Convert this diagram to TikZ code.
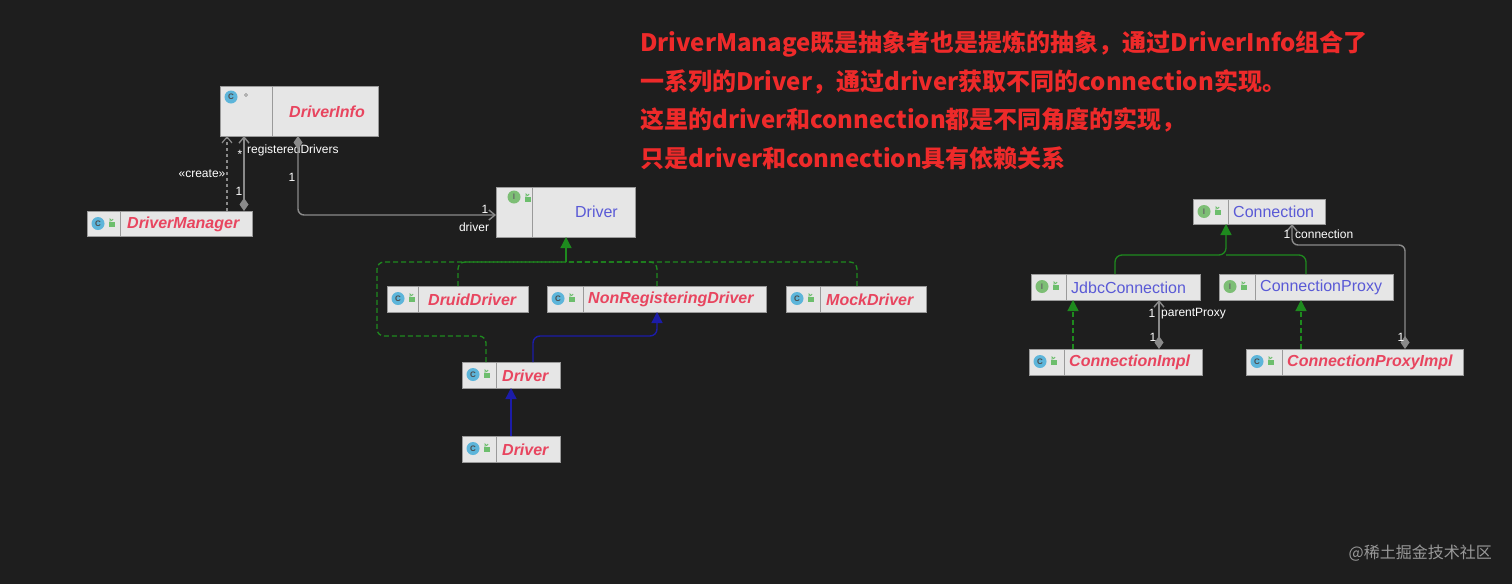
\documentclass[tikz,border=0pt]{standalone}
\usepackage{fontspec}
\setmainfont{Liberation Sans}
\newfontfamily\cjk{Noto Sans CJK SC}
\usetikzlibrary{arrows.meta}
\definecolor{bg}{HTML}{1E1E1E}
\definecolor{boxfill}{HTML}{E6E6E6}
\definecolor{boxline}{HTML}{9A9A9A}
\definecolor{clsred}{HTML}{E8455F}
\definecolor{ifblue}{HTML}{5A5AD6}
\definecolor{cicon}{HTML}{5DB5DA}
\definecolor{iicon}{HTML}{7DBE75}
\definecolor{lockg}{HTML}{6DBE6D}
\definecolor{relgray}{HTML}{8A8A8A}
\definecolor{realg}{HTML}{1E8A1E}
\definecolor{navy}{HTML}{1C1CA8}
\definecolor{annot}{HTML}{EE2A2A}
\tikzset{
  boxst/.style={fill=boxfill,draw=boxline,line width=0.8pt},
  lbl/.style={text=white,font=\fontsize{12}{12}\selectfont,inner sep=0pt},
  assoc/.style={draw=relgray,line width=1.4pt,rounded corners=6pt,{Diamond[fill=relgray,length=13pt,width=9pt]}-{Straight Barb[length=6pt,width=10pt]}},
  real/.style={draw=realg,line width=1.3pt,dashed,dash pattern=on 5pt off 3pt,rounded corners=7pt},
  realtip/.style={-{Triangle[fill=realg,length=11pt,width=11pt]}},
  gen/.style={draw=navy,line width=1.4pt,rounded corners=7pt},
  gentip/.style={-{Triangle[fill=navy,length=11pt,width=11pt]}},
  cic/.style={circle,fill=cicon,inner sep=0pt,minimum size=13pt,font=\bfseries\fontsize{8}{8}\selectfont,text=black!70},
  iic/.style={circle,fill=iicon,inner sep=0pt,minimum size=13pt,font=\bfseries\fontsize{8}{8}\selectfont,text=black!60},
}
\newcommand\umlbox[9]{%
  \draw[boxst] (#2,#3) rectangle (#4,#5);
  \draw[boxline,line width=0.6pt] (#6,#3) -- (#6,#5);
  \ifx#7C
    \node[cic] at ({#2+11},{#3+12.5}) {C};
    \node[anchor=west,inner sep=0pt,text=clsred,font=\bfseries\itshape\fontsize{16}{16}\selectfont] at (#8,{(#3+#5)/2+0.5}) {#9};
  \else
    \node[iic] at ({#2+11},{#3+12.5}) {I};
    \node[anchor=west,inner sep=0pt,text=ifblue,font=\fontsize{16}{16}\selectfont] at (#8,{(#3+#5)/2+0.5}) {#9};
  \fi
  \fill[lockg] ({#2+22},{#3+11}) rectangle ({#2+28},{#3+16});
  \draw[lockg,line width=0.8pt] ({#2+23},{#3+11}) -- ({#2+23},{#3+8}) arc (180:0:1.6);
}
\begin{document}
\begin{tikzpicture}[x=1pt,y=-1pt]
\fill[bg] (0,0) rectangle (1512,584);
\useasboundingbox (0,0) rectangle (1512,584);

\begin{scope}[every node/.style={anchor=west,inner sep=0pt,text=annot,font=\cjk\bfseries\fontsize{24}{24}\selectfont}]
\node (t1) at (640,44) {DriverManage既是抽象者也是提炼的抽象，通过DriverInfo组合了};
\node (t2) at (640,82) {一系列的Driver，通过driver获取不同的connection实现。};
\node (t3) at (640,120) {这里的driver和connection都是不同角度的实现，};
\node (t4) at (640,158) {只是driver和connection具有依赖关系};
\end{scope}
\node[anchor=east,inner sep=0pt,text=gray!80,font=\cjk\fontsize{16}{16}\selectfont] (wm) at (1492,553) {@稀土掘金技术社区};

% DriverInfo
\draw[boxst] (220,86) rectangle (378,136);
\draw[boxline,line width=0.6pt] (272,86) -- (272,136);
\node[cic] at (231,97) {C};
\draw[gray,line width=0.6pt] (246,95) circle (1.5);
\node[anchor=east,inner sep=0pt,text=clsred,font=\bfseries\itshape\fontsize{16}{16}\selectfont] (di) at (365,112) {DriverInfo};

% Driver interface
\draw[boxst] (496,187) rectangle (635,237);
\draw[boxline,line width=0.6pt] (532,187) -- (532,237);
\node[iic] at (514,197) {I};
\fill[lockg] (525,197) rectangle (531,202);
\draw[lockg,line width=0.8pt] (526,197) -- (526,194) arc (180:0:1.6);
\node[anchor=east,inner sep=0pt,text=ifblue,font=\fontsize{16}{16}\selectfont] (drv) at (618,212) {Driver};

\umlbox{dm}{87}{211}{252}{236}{120}{C}{127}{DriverManager}
\umlbox{dd}{387}{286}{528}{312}{418}{C}{428}{DruidDriver}
\umlbox{nr}{547}{286}{766}{312}{583}{C}{588}{NonRegisteringDriver}
\umlbox{md}{786}{286}{926}{312}{820}{C}{826}{MockDriver}
\umlbox{d1}{462}{362}{560}{388}{496}{C}{502}{Driver}
\umlbox{d2}{462}{436}{560}{462}{496}{C}{502}{Driver}
\umlbox{cn}{1193}{199}{1325}{224}{1228}{I}{1233}{Connection}
\umlbox{jc}{1031}{274}{1200}{300}{1066}{I}{1071}{JdbcConnection}
\umlbox{cp}{1219}{274}{1393}{300}{1255}{I}{1260}{ConnectionProxy}
\umlbox{ci}{1029}{349}{1202}{375}{1064}{C}{1069}{ConnectionImpl}
\umlbox{cpi}{1246}{349}{1463}{375}{1282}{C}{1287}{ConnectionProxyImpl}

\draw[relgray,line width=1.2pt,dashed,-{Straight Barb[length=6pt,width=10pt]}] (227,211) -- (227,136);
\node[lbl] at (202,174) {«create»};
\draw[assoc] (244,211) -- (244,136);
\node[lbl] at (240,154) {*};
\node[lbl,anchor=west] at (247,150) {registeredDrivers};
\node[lbl] at (239,191) {1};
\draw[assoc] (298,136) -- (298,215) -- (496,215);
\node[lbl] at (292,177) {1};
\node[lbl] at (485,209) {1};
\node[lbl] at (474,227) {driver};

\draw[real] (458,286) -- (458,262) -- (566,262);
\draw[real] (657,286) -- (657,262) -- (566,262);
\draw[real] (857,286) -- (857,262) -- (566,262);
\draw[real] (486,362) -- (486,336) -- (377,336) -- (377,262) -- (566,262);
\draw[realg,line width=1.3pt,realtip] (566,262) -- (566,237);

\draw[gen,gentip] (533,362) -- (533,336) -- (657,336) -- (657,312);
\draw[navy,line width=1.4pt,gentip] (511,436) -- (511,388);

\draw[realg,line width=1.3pt,rounded corners=7pt,realtip] (1115,274) -- (1115,255) -- (1226,255) -- (1226,224);
\draw[realg,line width=1.3pt,rounded corners=7pt] (1306,274) -- (1306,255) -- (1226,255);
\draw[realg,line width=1.3pt,dashed,dash pattern=on 5pt off 3pt,realtip] (1073,349) -- (1073,300);
\draw[realg,line width=1.3pt,dashed,dash pattern=on 5pt off 3pt,realtip] (1301,349) -- (1301,300);
\draw[assoc] (1159,349) -- (1159,300);
\node[lbl] at (1152,313) {1};
\node[lbl,anchor=west] at (1161,314) {parentProxy};
\node[lbl] at (1153,337) {1};
\draw[assoc] (1405,349) -- (1405,245) -- (1292,245) -- (1292,224);
\node[lbl] at (1287,234) {1};
\node[lbl,anchor=west] at (1295,234) {connection};
\node[lbl] at (1401,337) {1};
\end{tikzpicture}
\end{document}
